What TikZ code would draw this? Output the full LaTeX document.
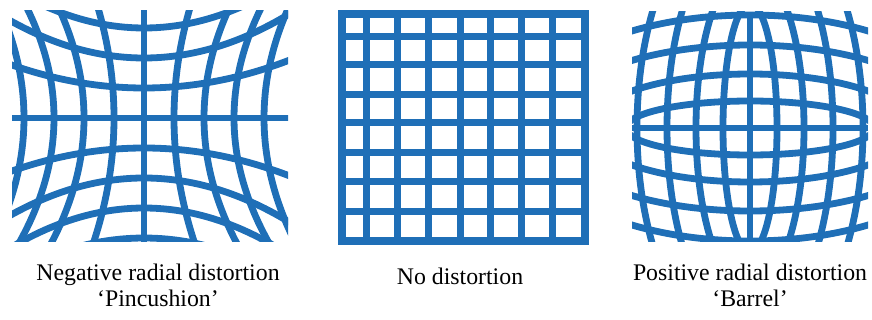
\documentclass[tikz,border=0pt]{standalone}
\usepackage{fontspec}
\setmainfont{Liberation Serif}
\definecolor{gridblue}{HTML}{1F6FB7}
\begin{document}
\begin{tikzpicture}[x=1pt,y=-1pt,
  gl/.style={draw=gridblue,line width=6.8pt},
  sq/.style={draw=gridblue,line width=7pt},
  lbl/.style={font=\fontsize{23.8}{26}\selectfont, align=center, inner sep=0pt}]
\useasboundingbox (0,0) rectangle (872,320);
% pincushion
\begin{scope}
\clip (12,11) rectangle (288,242);
\foreach \v in {-5,...,5}{
 \draw[gl] plot[domain=-6:6,samples=90,variable=\t] ({144+30*\t*(1+0.043*((\v)*(\v)))},{118+30*(\v)*(1+0.043*\t*\t)});
 \draw[gl] plot[domain=-6:6,samples=90,variable=\t] ({144+30*(\v)*(1+0.043*\t*\t)},{118+30*\t*(1+0.043*((\v)*(\v)))});
}
\end{scope}
% no distortion
\draw[sq,line width=8pt] (342,14) rectangle (585,241);
\foreach \x in {366.7,397,428,460,490.5,521,552} \draw[sq] (\x,14) -- (\x,241);
\foreach \y in {36.7,65,94.3,123,153,181.7,211.7} \draw[sq] (342,\y) -- (585,\y);
% barrel
\begin{scope}
\clip (632,12) rectangle (868,242);
\draw[gl] (750,12) -- (750,242);
\draw[gl] (632,128) -- (868,128);
\foreach \c/\h in {27/124,54/162,83/203,113/230}{
 \draw[gl] (750,128) ellipse [x radius=\c pt, y radius=\h pt];
 \draw[gl] (750,128) ellipse [x radius=\h pt, y radius=\c pt];
}
\end{scope}
% captions
\node[lbl] (neg) at (158,285) {Negative radial distortion\\‘Pincushion’};
\node[lbl] (none) at (460,276) {No distortion};
\node[lbl] (pos) at (750,285) {Positive radial distortion\\‘Barrel’};
\end{tikzpicture}
\end{document}
